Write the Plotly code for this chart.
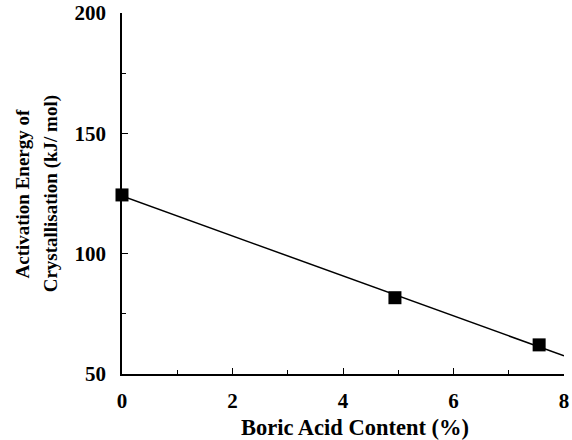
import numpy as np
import plotly.graph_objects as go

# Measured activation energies vs boric acid content
boric_acid = [0.0, 4.94, 7.55]
activation_energy = [124.4, 81.7, 62.1]

x_ticks = [0, 2, 4, 6, 8]
y_ticks = [50, 100, 150, 200]

x_title = "Boric Acid Content (%)"
y_title_lines = ["Activation Energy of", "Crystallisation (kJ/ mol)"]

# Least-squares linear fit drawn across the full x range
slope, intercept = np.polyfit(boric_acid, activation_energy, 1)
fit_x = np.array([0.0, 8.0])
fit_y = slope * fit_x + intercept

font_family = "Liberation Serif"

fig = go.Figure()
fig.add_trace(go.Scatter(
    x=fit_x, y=fit_y, mode="lines",
    line=dict(color="black", width=1.5),
    showlegend=False, hoverinfo="skip", cliponaxis=False,
))
fig.add_trace(go.Scatter(
    x=boric_acid, y=activation_energy, mode="markers",
    marker=dict(symbol="square", size=13, color="black"),
    showlegend=False, cliponaxis=False,
))

annotations = [
    dict(text=f"<b>{x_title}</b>", xref="paper", yref="paper",
         x=0.527, y=-0.147, xanchor="center", yanchor="middle",
         showarrow=False, font=dict(family=font_family, size=22.5))
]
annotations += [
    dict(text=f"<b>{line}</b>", xref="paper", yref="paper",
         x=xp, y=0.5, xanchor="center", yanchor="middle",
         textangle=-90, showarrow=False,
         font=dict(family=font_family, size=19))
    for line, xp in zip(y_title_lines, [-0.224, -0.161])
]

fig.update_layout(
    width=572, height=440,
    margin=dict(l=122, r=8, t=13, b=66),
    paper_bgcolor="white", plot_bgcolor="white",
    font=dict(family=font_family, color="black", size=20),
    xaxis=dict(
        range=[0, 8], tickvals=x_ticks, ticktext=[str(v) for v in x_ticks],
        showgrid=False, zeroline=False, automargin=False,
        showline=True, linecolor="black", linewidth=1.5,
        ticks="inside", ticklen=6, tickwidth=1.2, tickcolor="black",
        minor=dict(tickvals=[1, 3, 5, 7], ticks="inside", ticklen=4,
                   tickwidth=1, tickcolor="black"),
        tickfont=dict(family=font_family, size=21, weight="bold"),
        ticklabelstandoff=7,
    ),
    yaxis=dict(
        range=[50, 200], tickvals=y_ticks, ticktext=[str(v) for v in y_ticks],
        showgrid=False, zeroline=False, automargin=False,
        showline=True, linecolor="black", linewidth=1.5,
        ticks="inside", ticklen=6, tickwidth=1.2, tickcolor="black",
        minor=dict(tickvals=[75, 125, 175], ticks="inside", ticklen=4,
                   tickwidth=1, tickcolor="black"),
        tickfont=dict(family=font_family, size=21, weight="bold"),
        ticklabelstandoff=10,
    ),
    annotations=annotations,
)

fig.write_html("out.html")
